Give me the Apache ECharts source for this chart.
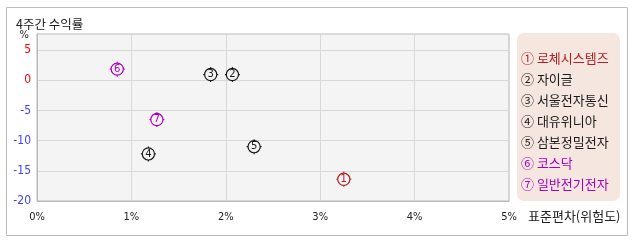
<!DOCTYPE html>
<html><head><meta charset="utf-8">
<script src="https://cdn.jsdelivr.net/npm/echarts@6/dist/echarts.min.js"></script>
<style>html,body{margin:0;padding:0;background:#fff}#c{width:638px;height:242px}</style>
</head><body><div id="c"></div>
<script>
const names = ['로체시스템즈','자이글','서울전자통신','대유위니아','삼본정밀전자','코스닥','일반전기전자'];
const marks = ['①','②','③','④','⑤','⑥','⑦'];
const digits = ['1','2','3','4','5','6','7'];
const stdDev = [3.25, 2.07, 1.84, 1.18, 2.30, 0.85, 1.27];
const returns = [-16.4, 0.95, 0.95, -12.2, -11.0, 1.85, -6.5];
const colors = ['#b22222','#1a1a1a','#1a1a1a','#1a1a1a','#1a1a1a','#a800c0','#a800c0'];
const xTicks = [0,1,2,3,4,5];
const yTicks = [-20,-15,-10,-5,0,5];

const FONT = '"Noto Sans CJK KR", "Noto Sans", sans-serif';
const symbolPath = 'path://M8 1.5A6.5 6.5 0 1 1 7.99 1.5Z M8 0L8 1.5 M8 14.5L8 16 M0 8L1.5 8 M14.5 8L16 8';

const chart = echarts.init(document.getElementById('c'), null, {renderer:'canvas'});
const series = names.map((n,i)=>({
  name: n,
  type: 'scatter',
  data: [[stdDev[i], returns[i]]],
  symbol: symbolPath,
  symbolSize: 15,
  itemStyle: {color:'rgba(0,0,0,0)', borderColor: colors[i], borderWidth: 1.2, opacity:1},
  label: {show:true, position:'inside', formatter: digits[i], color: colors[i], fontSize: 10, fontFamily: 'DejaVu Sans'},
  emphasis: {disabled:true},
  z: 3
}));

chart.setOption({
  animation: false,
  textStyle: {fontFamily: FONT},
  title: {text:'4주간 수익률', left: 11, top: 13, textStyle:{fontSize:12.5, fontWeight:'normal', color:'#222', fontFamily: FONT}},
  graphic: [
    {type:'rect', z:-10, shape:{x:6.5,y:7.5,width:621,height:228}, style:{fill:'none', stroke:'#bcbcbc', lineWidth:1}},
    {type:'rect', z:-10, shape:{x:517,y:33,width:103,height:168,r:7}, style:{fill:'#f5e7df'}}
  ],
  grid: {left:37, top:34, right:129, bottom:41, show:true, backgroundColor:'#f4f4f4', borderColor:'#b8b8b8', borderWidth:1},
  legend: {
    orient:'vertical', left:511, top:47, itemGap:8, itemWidth:0, itemHeight:0, icon:'none',
    selectedMode:false,
    data: names.map((n,i)=>({name:n, textStyle:{color: colors[i]}})),
    formatter: n => marks[names.indexOf(n)] + ' ' + n,
    textStyle:{fontSize:13, lineHeight:13, fontFamily: FONT}
  },
  xAxis: {
    type:'value', min: xTicks[0], max: xTicks[xTicks.length-1], interval:1,
    name:'표준편차(위험도)', nameLocation:'end', nameGap:19,
    nameTextStyle:{fontSize:13, color:'#222', verticalAlign:'top', padding:[9,0,0,0], fontFamily: FONT},
    axisLine:{show:true, onZero:false, lineStyle:{color:'#b8b8b8'}}, axisTick:{show:false},
    axisLabel:{formatter:'{value}%', color:'#222', fontSize:11, margin:11, fontFamily:'DejaVu Sans Condensed, DejaVu Sans'},
    splitLine:{show:true, lineStyle:{color:'#d8d8d8', width:1}}
  },
  yAxis: {
    type:'value', min: yTicks[0], max: 7.67, interval:5,
    name:'%', nameLocation:'end', nameGap:-1,
    nameTextStyle:{fontSize:11, color:'#222', align:'right', verticalAlign:'middle', padding:[0,8,0,0], fontFamily:'DejaVu Sans Condensed, DejaVu Sans'},
    axisLine:{show:true, onZero:false, lineStyle:{color:'#b8b8b8'}}, axisTick:{show:false},
    axisLabel:{
      formatter: v => (yTicks.indexOf(v) >= 0 ? String(v) : ''),
      color: v => (Number(v) >= 0 ? '#ff0000' : '#3f3fff'),
      fontSize:12, margin:6, fontFamily:'DejaVu Sans Condensed, DejaVu Sans'
    },
    splitLine:{show:true, lineStyle:{color:'#d8d8d8', width:1}}
  },
  series: series
});
</script></body></html>
